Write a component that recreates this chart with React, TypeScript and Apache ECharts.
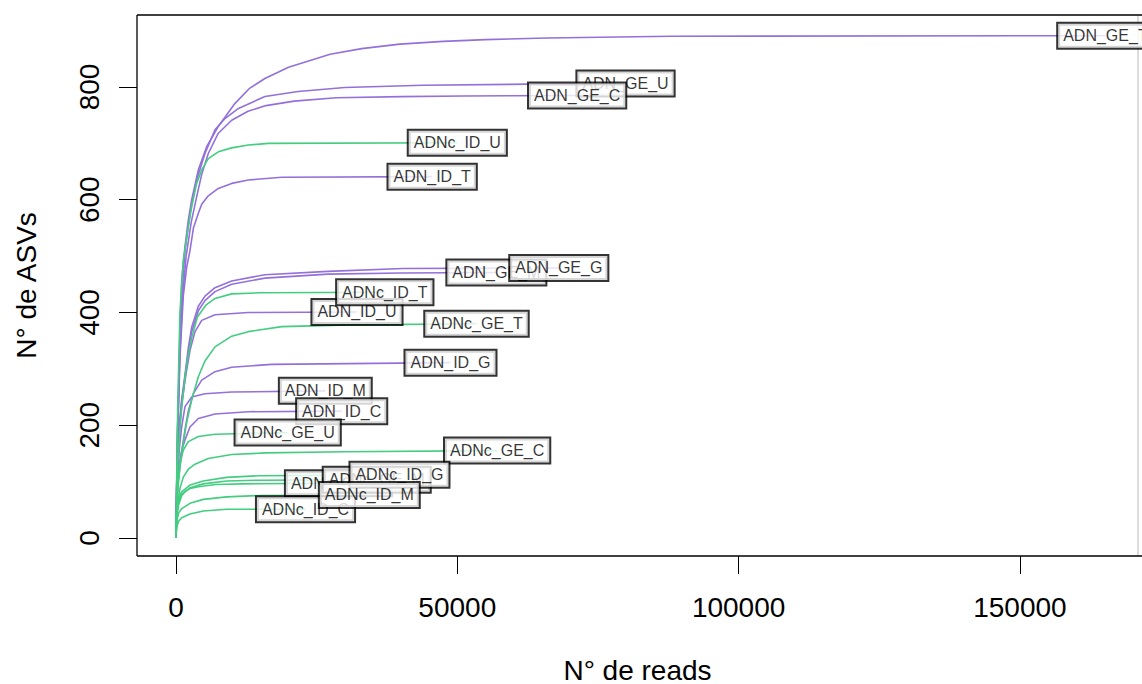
import React, { useEffect, useRef } from "react";
import * as echarts from "echarts";

// ---- data (reads, ASVs) ----
const ADN_GE_T = [[1, 1], [100, 80], [300, 200], [600, 330], [1010, 458], [1600, 517], [2190, 564], [2790, 600], [3970, 653], [5450, 694], [7520, 730], [10490, 771], [13000, 797], [15800, 815], [20000, 835], [27400, 858], [33000, 868], [39800, 876], [47500, 881], [55000, 884], [66000, 887], [88000, 890], [165200, 891]];
const ADN_GE_U = [[1, 1], [100, 80], [300, 200], [700, 340], [1100, 440], [1600, 510], [2490, 576], [3670, 635], [5150, 682], [6930, 724], [8700, 744], [11100, 762], [15800, 783], [21700, 792], [30000, 799], [43900, 803], [62900, 805], [79900, 806]];
const ADN_GE_C = [[1, 1], [100, 80], [300, 195], [700, 330], [1200, 430], [1800, 500], [2700, 560], [3670, 605], [4570, 645], [5740, 682], [7520, 718], [9900, 741], [12800, 757], [16000, 767], [21000, 775], [28500, 781], [40000, 783], [51000, 784], [71300, 785]];
const ADN_GE_G = [[1, 1], [100, 60], [300, 140], [600, 200], [1000, 245], [1600, 290], [2190, 337], [2790, 374], [3970, 411], [5150, 429], [6930, 444], [9900, 456], [15800, 467], [27000, 473], [40400, 478], [68040, 479]];
const ADN_GE_M = [[1, 1], [100, 60], [300, 138], [600, 196], [1000, 240], [1600, 284], [2190, 330], [2790, 366], [3970, 403], [5150, 421], [6930, 437], [9900, 450], [15800, 461], [27000, 468], [40000, 470], [56940, 471]];
const ADN_ID_T = [[1, 1], [100, 75], [300, 180], [700, 320], [1300, 430], [1900, 480], [2490, 510], [3100, 550], [3970, 576], [4570, 592], [5740, 607], [7520, 620], [9900, 629], [12850, 635], [18800, 640], [45530, 641]];
const ADN_ID_U = [[1, 1], [100, 60], [300, 135], [600, 190], [1000, 235], [1500, 272], [1900, 298], [2490, 333], [3380, 366], [4570, 386], [6930, 396], [12850, 400], [32170, 401]];
const ADN_ID_G = [[1, 1], [100, 44], [300, 90], [700, 128], [1100, 160], [1600, 192], [2190, 225], [3080, 256], [4570, 280], [6930, 295], [9900, 303], [17000, 308], [48790, 311]];
const ADN_ID_M = [[1, 1], [100, 50], [300, 110], [600, 160], [1010, 197], [1600, 233], [2790, 250], [5150, 256], [9900, 259], [26540, 261]];
const ADN_ID_C = [[1, 1], [100, 45], [300, 95], [600, 130], [1000, 155], [1600, 174], [2490, 197], [3970, 212], [6930, 220], [12850, 224], [29450, 225]];
const ADNc_ID_U = [[1, 1], [100, 90], [300, 230], [700, 400], [1300, 493], [2190, 552], [2790, 588], [3670, 629], [4570, 653], [5740, 673], [7520, 685], [9900, 692], [12850, 697], [16400, 700], [50000, 701]];
const ADNc_ID_T = [[1, 1], [100, 55], [300, 125], [600, 180], [1000, 230], [1600, 285], [2100, 320], [2790, 355], [3800, 392], [5300, 413], [6930, 425], [9900, 433], [15000, 435], [37110, 436]];
const ADNc_GE_T = [[1, 1], [100, 40], [300, 85], [700, 125], [1300, 170], [1900, 205], [2790, 245], [3970, 286], [5150, 314], [6930, 339], [9900, 358], [12850, 366], [18800, 375], [30900, 378], [53410, 380]];
const ADNc_GE_U = [[1, 1], [100, 50], [300, 95], [710, 132], [1300, 156], [2190, 171], [3970, 180], [6930, 184], [19850, 187]];
const ADNc_GE_C = [[1, 1], [100, 35], [300, 62], [700, 88], [1300, 108], [2200, 122], [3380, 131], [5740, 141], [9900, 148], [15800, 151], [30000, 153], [57080, 155]];
const ADNc_GE_G = [[1, 1], [60, 22], [200, 42], [500, 60], [1000, 75], [1600, 82], [2490, 88], [4000, 91], [7000, 95], [12000, 96], [28880, 97]];
const ADNc_GE_M = [[1, 1], [60, 25], [200, 48], [500, 66], [1010, 78], [2490, 89], [4850, 96], [9000, 101], [15000, 102.5], [35680, 103.5]];
const ADNc_ID_G = [[1, 1], [60, 25], [200, 50], [500, 70], [1010, 82], [2490, 94], [4850, 101], [9000, 107.5], [14930, 110.5], [39720, 112]];
const ADNc_ID_M = [[1, 1], [60, 18], [200, 33], [500, 45], [1010, 52], [2490, 61.5], [4850, 68.5], [9000, 73], [14930, 75.5], [34360, 76.3]];
const ADNc_ID_C = [[1, 1], [60, 10], [200, 22], [500, 30], [1010, 36], [2490, 42.6], [4850, 48], [9000, 51], [23020, 51.2]];

// drawing order (last = on top)
const sampleNames = [
  "ADN_GE_T", "ADN_GE_U", "ADN_GE_C", "ADN_GE_M", "ADN_GE_G", "ADN_ID_T", "ADN_ID_U", "ADN_ID_G", "ADN_ID_M", "ADN_ID_C",
  "ADNc_ID_U", "ADNc_ID_T", "ADNc_GE_T", "ADNc_GE_U", "ADNc_GE_C", "ADNc_GE_G", "ADNc_GE_M", "ADNc_ID_G", "ADNc_ID_C", "ADNc_ID_M",
];
const sampleCurves = [
  ADN_GE_T, ADN_GE_U, ADN_GE_C, ADN_GE_M, ADN_GE_G, ADN_ID_T, ADN_ID_U, ADN_ID_G, ADN_ID_M, ADN_ID_C,
  ADNc_ID_U, ADNc_ID_T, ADNc_GE_T, ADNc_GE_U, ADNc_GE_C, ADNc_GE_G, ADNc_GE_M, ADNc_ID_G, ADNc_ID_C, ADNc_ID_M,
];
const xTicks = [0, 50000, 100000, 150000];
const yTicks = [0, 200, 400, 600, 800];

const PURPLE = "#9370DB";
const GREEN = "#43CD80";
const FONT = "'Liberation Sans', Arial, Helvetica, sans-serif";

export default function App() {
  const ref = useRef<HTMLDivElement>(null);
  useEffect(() => {
    if (!ref.current) return;
    const chart = echarts.init(ref.current, undefined, { renderer: "svg" });
    const colorOf = (n: string) => (n.startsWith("ADNc") ? GREEN : PURPLE);
    const lineSeries = sampleNames.map((n, i) => ({
      name: n,
      type: "line",
      data: sampleCurves[i],
      showSymbol: false,
      symbol: "none",
      smooth: false,
      lineStyle: { color: colorOf(n), width: 1.6 },
      z: 2,
    }));
    const labelSeries = {
      type: "scatter",
      symbol: "circle",
      symbolSize: 1,
      itemStyle: { color: "rgba(0,0,0,0)" },
      z: 10,
      data: sampleNames.map((n, i) => {
        const c = sampleCurves[i];
        return { name: n, value: c[c.length - 1] };
      }),
      label: {
        show: true,
        position: "inside",
        formatter: (p: any) => p.name,
        fontFamily: FONT,
        fontSize: 16,
        lineHeight: 18,
        color: "#000",
        backgroundColor: "#fff",
        borderColor: "#000",
        borderWidth: 2,
        padding: [3, 5, 3, 5],
      },
    };
    chart.setOption({
      animation: false,
      backgroundColor: "#fff",
      grid: { left: 137, top: 15, width: 1001, height: 541, show: false },
      xAxis: {
        type: "value",
        min: -6932,
        max: 170990,
        splitLine: { show: false },
        axisLine: { show: false, onZero: false },
        axisTick: { show: true, length: 18, lineStyle: { color: "#000", width: 1 }, customValues: xTicks },
        axisLabel: {
          fontFamily: FONT, fontSize: 28, lineHeight: 28, color: "#000", margin: 37, customValues: xTicks,
          formatter: (v: number) => String(v),
        },
      },
      yAxis: {
        type: "value",
        min: -31.93,
        max: 927.7,
        splitLine: { show: false },
        axisLine: { show: false, onZero: false },
        axisTick: { show: true, length: 18, lineStyle: { color: "#000", width: 1 }, customValues: yTicks },
        axisLabel: {
          fontFamily: FONT, fontSize: 28, lineHeight: 28, color: "#000", margin: 34, rotate: 90, customValues: yTicks,
          formatter: (v: number) => String(v),
        },
      },
      series: [...lineSeries, labelSeries],
      graphic: [
        { type: "line", shape: { x1: 137, y1: 15, x2: 1142, y2: 15 }, style: { stroke: "#000", lineWidth: 1.3 }, z: 20 },
        { type: "line", shape: { x1: 137, y1: 556, x2: 1142, y2: 556 }, style: { stroke: "#000", lineWidth: 1.3 }, z: 20 },
        { type: "line", shape: { x1: 137, y1: 15, x2: 137, y2: 556 }, style: { stroke: "#000", lineWidth: 1.3 }, z: 20 },
        { type: "line", shape: { x1: 1138, y1: 15, x2: 1138, y2: 556 }, style: { stroke: "#bbb", lineWidth: 1 }, z: 1 },
        {
          type: "text",
          x: 637.5,
          y: 670,
          style: { text: "N° de reads", font: `28px ${FONT}`, fill: "#000", textAlign: "center", textVerticalAlign: "middle" },
        },
        {
          type: "text",
          x: 26,
          y: 285.5,
          rotation: Math.PI / 2,
          style: { text: "N° de ASVs", font: `28px ${FONT}`, fill: "#000", textAlign: "center", textVerticalAlign: "middle" },
        },
      ],
    });
    return () => chart.dispose();
  }, []);
  return <div ref={ref} style={{ position: "absolute", left: 0, top: 0, width: 1142, height: 684 }} />;
}
